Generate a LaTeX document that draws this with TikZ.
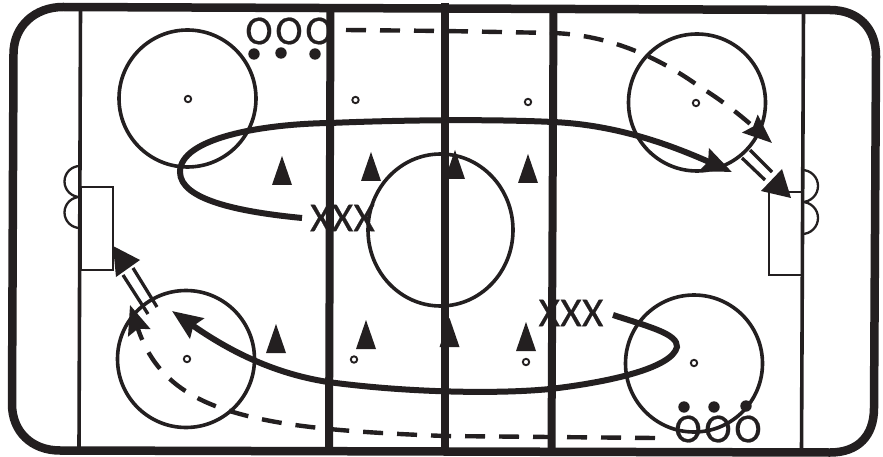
\documentclass[tikz,border=0pt]{standalone}
\usepackage{fontspec}
\setmainfont{Carlito}
\newfontfamily\xfont[FakeBold=0.5,LetterSpace=1]{Carlito}
\newfontfamily\ofont[FakeBold=0.5,LetterSpace=7]{Carlito}
\usetikzlibrary{arrows.meta}
\definecolor{ink}{HTML}{231F20}
\tikzset{
  x=1pt,y=-1pt,
  board/.style={draw=ink,line width=8.5pt,line join=round},
  goalline/.style={draw=ink,line width=3.6pt},
  blueline/.style={draw=ink,line width=8pt},
  ring/.style={draw=ink,line width=3.6pt},
  spot/.style={draw=ink,line width=1.9pt,fill=white},
  crease/.style={draw=ink,line width=1.6pt,fill=white},
  net/.style={draw=ink,line width=2.3pt},
  puck/.style={fill=ink},
  cone/.style={fill=ink},
  skate/.style={draw=ink,line width=6pt,-{Stealth[length=30pt,width=24pt,inset=4pt]}},
  dashpath/.style={draw=ink,line width=4.4pt,dash pattern=on 20pt off 14pt,-{Stealth[length=29pt,width=23pt,inset=4pt]}},
  passline/.style={draw=ink,line width=3.3pt},
  passhead/.style={fill=ink},
  xmark/.style={text=ink,font=\xfont\fontsize{41pt}{41pt}\selectfont,inner sep=0pt},
  omark/.style={text=ink,font=\ofont\fontsize{41pt}{41pt}\selectfont,inner sep=0pt},
}
\newcommand{\pylon}[2]{\path[cone,shift={(#1,#2)}] (-10,0) -- (0,-29) -- (10,0) -- cycle;}
\begin{document}
\begin{tikzpicture}
\path[fill=white,use as bounding box] (0,0) rectangle (883,457);
% crease
\draw[net] (80,197) arc[start angle=90,end angle=270,radius=15.5];
\draw[net] (80,228) arc[start angle=90,end angle=270,radius=15.5];
\draw[net] (802,202) arc[start angle=90,end angle=-90,radius=16];
\draw[net] (802,234) arc[start angle=90,end angle=-90,radius=16];
\draw[crease] (81,187) rectangle (113,270);
\draw[crease] (769,192) rectangle (802,275);
% face-off circles
\draw[ring] (187.5,98.5) circle[radius=68.5];
\draw[ring] (697,102.5) circle[radius=68.5];
\draw[ring] (186,359) circle[radius=68.5];
\draw[ring] (694,363.5) circle[radius=68.5];
\draw[ring] (440.5,230) ellipse[x radius=72.5,y radius=76];
\foreach \p in {(188,99),(696,103),(187,359),(694,363),(355.5,100),(528,102),(354,359.5),(526,362)}
  \draw[spot] \p circle[radius=3.2];
% lines
\draw[goalline] (80.5,8) -- (79,449);
\draw[goalline] (803.5,10) -- (801.5,451);
\draw[blueline] (330.5,6) -- (329,450);
\draw[blueline] (445,3) -- (445,455);
\draw[blueline] (553.5,8) -- (551.5,452);
\draw[board] (63,7) -- (830,10) .. controls (858,10) and (876,28) .. (876,56)
  -- (874,408) .. controls (874,436) and (858,452.5) .. (830,452.5)
  -- (60,450.5) .. controls (32,450.5) and (12,432) .. (12,404)
  -- (13.5,54) .. controls (13.5,26) and (35,7) .. (63,7) -- cycle;
% cones
\pylon{282}{185}\pylon{371}{181}\pylon{455}{179}\pylon{528}{183}
\pylon{276}{353}\pylon{366}{349}\pylon{449.5}{347}\pylon{526}{351}
% pucks
\foreach \p in {(254,54),(281,53),(315,54),(684,407),(714,407),(746,406)}
  \fill[puck] \p circle[radius=5.7];
% players
\node[xmark] (xa) at (342.5,218) {XXX};
\node[xmark] (xb) at (571,313) {XXX};
\node[omark] (oa) at (289,31) {OOO};
\node[omark] (ob) at (718,429) {OOO};
% skating paths
\coordinate (sa) at (302,218);
\coordinate (ta) at (732,172);
\coordinate (sb) at (613,315);
\coordinate (tb) at (172,311);
\draw[skate] (sa) .. controls (240,212) and (180,200) .. (180,172)
  .. controls (180,138) and (262,124) .. (330,123)
  .. controls (400,120) and (490,119) .. (553,122)
  .. controls (620,125) and (675,147) .. (ta);
\draw[skate] (sb) .. controls (650,327) and (678,334) .. (677,347)
  .. controls (672,368) and (610,382) .. (550,389)
  .. controls (500,394) and (410,393) .. (328,382)
  .. controls (270,373) and (225,348) .. (tb);
% dashed paths
\coordinate (da) at (346,30);
\coordinate (db) at (772,143);
\coordinate (dc) at (655,438);
\coordinate (dd) at (130,305);
\draw[dashpath] (da) -- (445,31) -- (553,33) .. controls (610,35) and (660,58) .. (700,87) .. controls (725,102) and (748,122) .. (db);
\draw[dashpath] (dc) -- (550,437) -- (445,436) .. controls (340,432) and (280,426) .. (233,412)
  .. controls (175,395) and (150,365) .. (dd);
% shots
\coordinate (pa1) at (750,150); \coordinate (pa2) at (772,172);
\coordinate (pb1) at (742,158); \coordinate (pb2) at (765,180);
\coordinate (ha1) at (791,198); \coordinate (ha2) at (782,169); \coordinate (ha3) at (761,191);
\draw[passline] (pa1) -- (pa2);
\draw[passline] (pb1) -- (pb2);
\path[passhead] (ha1) -- (ha2) -- (ha3) -- cycle;
\coordinate (pc1) at (148,314); \coordinate (pc2) at (123,275);
\coordinate (pd1) at (157,307); \coordinate (pd2) at (133,268);
\coordinate (hb1) at (113,246); \coordinate (hb2) at (140,260); \coordinate (hb3) at (116,277);
\draw[passline] (pc1) -- (pc2);
\draw[passline] (pd1) -- (pd2);
\path[passhead] (hb1) -- (hb2) -- (hb3) -- cycle;
\end{tikzpicture}
\end{document}
